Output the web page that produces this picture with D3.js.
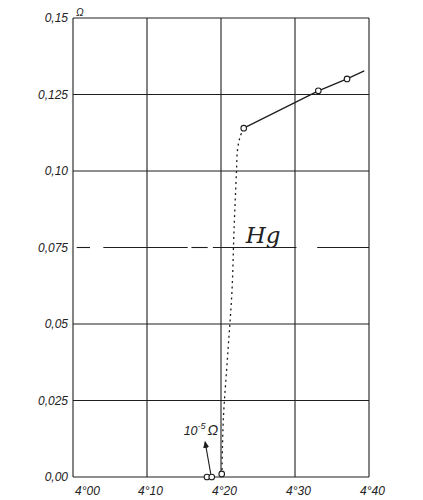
<!DOCTYPE html>
<html>
<head>
<meta charset="utf-8">
<script src="https://cdn.jsdelivr.net/npm/d3@7"></script>
<style>
html,body{margin:0;padding:0;background:#fff;}
svg text{font-family:"Liberation Sans","DejaVu Sans",sans-serif;font-style:italic;fill:#222;}
</style>
</head>
<body>
<div id="chart"></div>
<script>
// ---- data ----
const xTicks = [4.00, 4.10, 4.20, 4.30, 4.40];
const xTickLabels = ["4°00", "4°10", "4°20", "4°30", "4°40"];
const yTicks = [0, 0.025, 0.05, 0.075, 0.10, 0.125, 0.15];
const yTickLabels = ["0,00", "0,025", "0,05", "0,075", "0,10", "0,125", "0,15"];
// measured points above the transition (temperature K, resistance ohm)
const highT = [4.2307, 4.3315, 4.3703];
const highR = [0.1140, 0.1262, 0.1301];
// solid line through them, extended beyond the last point
const lineT = [4.2307, 4.3315, 4.3703, 4.3936];
const lineR = [0.1140, 0.1262, 0.1301, 0.1327];
// measured points below the transition
const lowT = [4.181, 4.1875, 4.201];
const lowR = [0.0, 0.0, 0.001];
// dotted transition curve
const dropT = [4.2307, 4.2257, 4.2223, 4.2209, 4.2176, 4.2149, 4.2095, 4.2031, 4.2014];
const dropR = [0.1140, 0.1111, 0.1069, 0.0997, 0.0807, 0.0611, 0.0415, 0.0186, 0.0023];
// pieces of the broken 0,075 grid line (temperature ranges)
const brokenLineFrom = [4.005, 4.041, 4.160, 4.189, 4.330];
const brokenLineTo   = [4.023, 4.155, 4.182, 4.302, 4.400];

// ---- layout ----
const W = 423, H = 500;
const m = {left:73, right:54, top:18, bottom:23};
const svg = d3.select("#chart").append("svg").attr("width", W).attr("height", H);

const x = d3.scaleLinear().domain([4.00, 4.40]).range([m.left, W - m.right]);
const y = d3.scaleLinear().domain([0, 0.15]).range([H - m.bottom, m.top]);

const ink = "#1e1e1e";

// grid (verticals)
svg.append("g").selectAll("line").data(xTicks).join("line")
  .attr("x1", d => x(d)).attr("x2", d => x(d))
  .attr("y1", y(0)).attr("y2", y(0.15))
  .attr("stroke", ink).attr("stroke-width", 1.1);

// grid (horizontals), 0,075 drawn broken
svg.append("g").selectAll("line").data(yTicks.filter(v => v !== 0.075)).join("line")
  .attr("x1", x(4.00)).attr("x2", x(4.40))
  .attr("y1", d => y(d)).attr("y2", d => y(d))
  .attr("stroke", ink).attr("stroke-width", 1.1);

svg.append("g").selectAll("line").data(d3.range(brokenLineFrom.length)).join("line")
  .attr("x1", i => x(brokenLineFrom[i])).attr("x2", i => x(brokenLineTo[i]))
  .attr("y1", y(0.075)).attr("y2", y(0.075))
  .attr("stroke", ink).attr("stroke-width", 1.1);

// axis labels using d3 axes (tick lines hidden)
const yAxis = d3.axisLeft(y).tickValues(yTicks).tickSize(0).tickPadding(5)
  .tickFormat((d, i) => yTickLabels[i]);
const gy = svg.append("g").attr("transform", `translate(${m.left},0)`).call(yAxis);
gy.select(".domain").remove();
gy.selectAll("text").attr("font-size", 12).style("font-family", '"Liberation Sans",sans-serif')
  .style("font-style", "italic").attr("fill", "#222");

const xAxis = d3.axisBottom(x).tickValues(xTicks).tickSize(0).tickPadding(9)
  .tickFormat((d, i) => xTickLabels[i]);
const gx = svg.append("g").attr("transform", `translate(0,${y(0)})`).call(xAxis);
gx.select(".domain").remove();
gx.selectAll("text").attr("font-size", 12).style("font-family", '"Liberation Sans",sans-serif')
  .style("font-style", "italic").attr("fill", "#222")
  .attr("dx", (d, i) => i === 0 ? 14 : 3);

// Ω unit at top of y axis
svg.append("text").attr("x", x(4.00) + 3).attr("y", y(0.15) - 2)
  .attr("font-size", 10).text("Ω");

// dotted transition curve
svg.append("path")
  .datum(d3.range(dropT.length))
  .attr("d", d3.line().curve(d3.curveCatmullRom).x(i => x(dropT[i])).y(i => y(dropR[i])))
  .attr("fill", "none").attr("stroke", ink).attr("stroke-width", 1.3)
  .attr("stroke-dasharray", "2,3.5");

// solid line
svg.append("path")
  .datum(d3.range(lineT.length))
  .attr("d", d3.line().x(i => x(lineT[i])).y(i => y(lineR[i])))
  .attr("fill", "none").attr("stroke", ink).attr("stroke-width", 1.3);

// circles
const pts = highT.map((t, i) => [t, highR[i]]).concat(lowT.map((t, i) => [t, lowR[i]]));
svg.append("g").selectAll("circle").data(pts).join("circle")
  .attr("cx", d => x(d[0])).attr("cy", d => y(d[1])).attr("r", 2.8)
  .attr("fill", "#fff").attr("stroke", ink).attr("stroke-width", 1.1);

// 10^-5 Ω annotation with arrow
svg.append("defs").append("marker").attr("id", "ah")
  .attr("viewBox", "0 0 10 10").attr("refX", 8).attr("refY", 5)
  .attr("markerWidth", 7).attr("markerHeight", 7).attr("orient", "auto")
  .append("path").attr("d", "M0,1 L9,5 L0,9 Z").attr("fill", ink);
svg.append("line")
  .attr("x1", x(4.1875) - 1).attr("y1", y(0.001))
  .attr("x2", x(4.1785)).attr("y2", y(0.0115))
  .attr("stroke", ink).attr("stroke-width", 1.1).attr("marker-end", "url(#ah)");
const ann = svg.append("text").attr("x", x(4.1495)).attr("y", y(0.0138)).attr("font-size", 12.5);
ann.append("tspan").text("10");
ann.append("tspan").attr("dy", -6).attr("font-size", 9).text("-5");
ann.append("tspan").attr("dy", 6).attr("dx", 2).attr("font-size", 14).text("Ω");

// Hg label
svg.append("text").attr("x", x(4.2335)).attr("y", y(0.0765))
  .attr("font-size", 23)
  .style("font-family", '"DejaVu Serif","Liberation Serif",serif')
  .style("font-style", "italic").text("Hg");
</script>
</body>
</html>
